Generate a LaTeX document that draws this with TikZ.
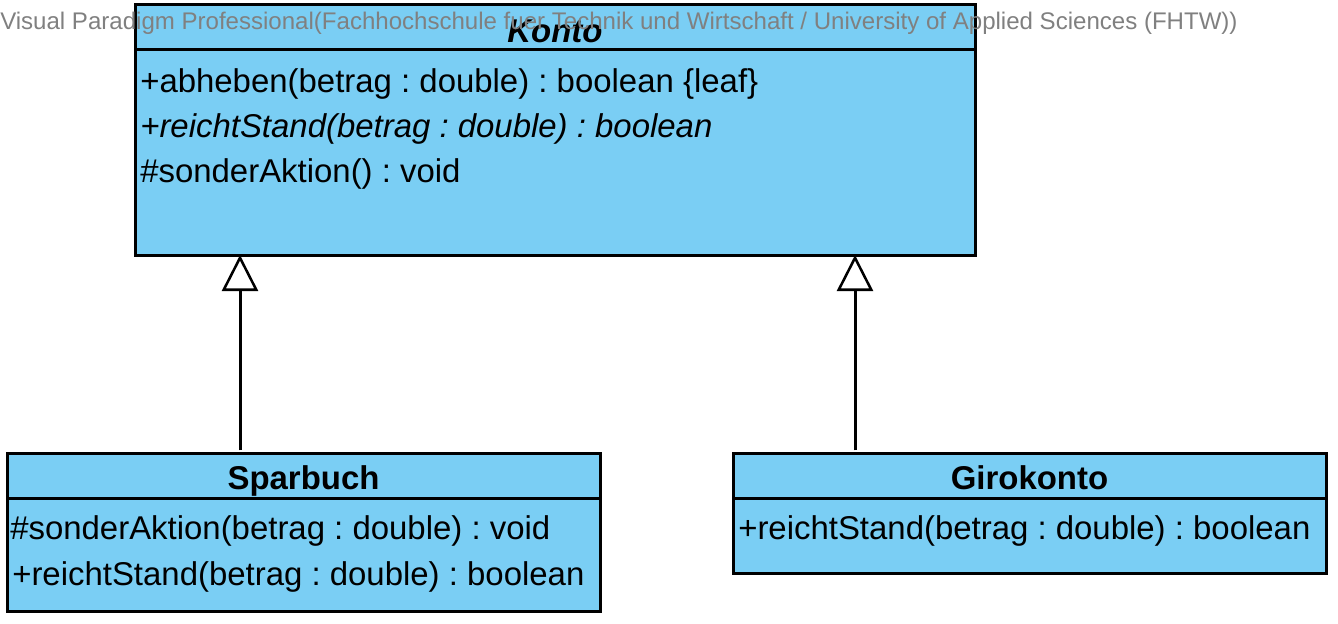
\documentclass[tikz,border=0pt]{standalone}
\usepackage{fontspec}
\setmainfont{Liberation Sans}
\usetikzlibrary{arrows.meta}
\definecolor{clsfill}{RGB}{122,206,244}
\definecolor{wmgray}{RGB}{128,128,128}
\frenchspacing
\begin{document}
\begin{tikzpicture}[x=0.75pt,y=-0.75pt,
  clsbox/.style={draw=black, line width=2.25pt, fill=clsfill, anchor=north west, inner sep=0pt, outer sep=0pt},
  sepline/.style={line width=2.25pt},
  member/.style={anchor=base west, inner sep=0pt, font=\fontsize{24.7}{30}\selectfont},
  clstitle/.style={anchor=base, inner sep=0pt, font=\fontsize{24.7}{30}\selectfont\bfseries},
  gen/.style={line width=2.25pt, shorten <=2pt, -{Triangle[open, length=27pt, width=27pt, line width=1.9pt]}},
  watermark/.style={anchor=base west, inner sep=0pt, text=wmgray}
]
\useasboundingbox (0,0) rectangle (1338,624);
% Konto
\node[clsbox, minimum width=630pt, minimum height=187.5pt] (konto) at (135,5) {};
\draw[sepline] ([yshift=-33.75pt]konto.north west) -- ([yshift=-33.75pt]konto.north east);
\node[clstitle, font=\fontsize{24.7}{30}\selectfont\bfseries\itshape] (kontot) at ([yshift=-28.5pt]konto.north) {Konto};
\node[member] (k1) at (140,93) {+abheben(betrag : double) : boolean \{leaf\}};
\node[member, font=\fontsize{24.7}{30}\selectfont\itshape] (k2) at (140,138) {+reichtStand(betrag : double) : boolean};
\node[member] (k3) at (140,183) {\#sonderAktion() : void};
% Sparbuch
\node[clsbox, minimum width=444.75pt, minimum height=118.5pt] (spar) at (7,453) {};
\draw[sepline] ([yshift=-33.75pt]spar.north west) -- ([yshift=-33.75pt]spar.north east);
\node[clstitle] (spart) at ([yshift=-27pt]spar.north) {Sparbuch};
\node[member] (s1) at (10,539) {\#sonderAktion(betrag : double) : void};
\node[member] (s2) at (12,585) {+reichtStand(betrag : double) : boolean};
% Girokonto
\node[clsbox, minimum width=444.75pt, minimum height=90pt] (giro) at (733,453) {};
\draw[sepline] ([yshift=-33.75pt]giro.north west) -- ([yshift=-33.75pt]giro.north east);
\node[clstitle] (girot) at ([yshift=-27pt]giro.north) {Girokonto};
\node[member] (g1t) at (738,539) {+reichtStand(betrag : double) : boolean};
% generalizations
\coordinate (ga) at (240,0);
\coordinate (gb) at (855,0);
\draw[gen] (ga |- spar.north) -- (ga |- konto.south);
\draw[gen] (gb |- giro.north) -- (gb |- konto.south);
% watermark
\node[watermark] (wm) at (0,30) {\resizebox{928pt}{!}{Visual Paradigm Professional(Fachhochschule fuer Technik und Wirtschaft / University of Applied Sciences (FHTW))}};
\end{tikzpicture}
\end{document}
